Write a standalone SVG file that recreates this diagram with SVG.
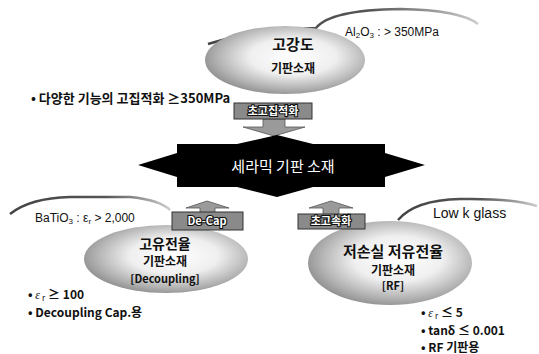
<svg xmlns="http://www.w3.org/2000/svg" width="539" height="354" viewBox="0 0 539 354">
<style>
.k{font-family:"Noto Sans CJK KR","Liberation Sans",sans-serif;font-weight:bold;fill:#111}
.r{font-family:"Liberation Sans","Noto Sans CJK KR",sans-serif;fill:#111}
.bx{fill:#8a8a8a;stroke:#333;stroke-width:1}
.bt{font-family:"Noto Sans CJK KR","Liberation Sans",sans-serif;font-weight:bold;font-size:11px;fill:#fff;stroke:#111;stroke-width:2.2;paint-order:stroke;text-anchor:middle}
.ar{fill:#9a9a9a;stroke:#555;stroke-width:0.8}
.cl{fill:none;stroke-width:2.5}
</style>
<defs>
<radialGradient id="g1" cx="0.55" cy="0.45" r="0.6">
<stop offset="0" stop-color="#fff"/><stop offset="0.45" stop-color="#efefef"/><stop offset="0.8" stop-color="#b0b0b0"/><stop offset="1" stop-color="#888"/>
</radialGradient>
<linearGradient id="s1" x1="0" x2="1" y1="0" y2="0">
<stop offset="0" stop-color="#444"/><stop offset="0.6" stop-color="#555"/><stop offset="1" stop-color="#ccc"/>
</linearGradient>
</defs>
<g id="callout-top">
<path class="cl" stroke="url(#s1)" d="M208,44 Q260,28 316,28 Q330,10 400,9 Q460,10 478,24"/>
<text class="r" x="345" y="36" font-size="12">Al<tspan font-size="8" dy="2">2</tspan><tspan dy="-2">O</tspan><tspan font-size="8" dy="2">3</tspan><tspan dy="-2"> :  &gt; 350MPa</tspan></text>
</g>
<g id="node-top">
<ellipse cx="285" cy="60" rx="80" ry="34" fill="url(#g1)"/>
<text class="k" x="293" y="50" font-size="15" text-anchor="middle">고강도</text>
<text class="k" x="293" y="73" font-size="12" text-anchor="middle">기판소재</text>
</g>
<text class="k" x="31" y="103" font-size="13">• 다양한 기능의 고집적화 ≥350MPa</text>
<g id="callout-left">
<path class="cl" stroke="url(#s1)" d="M10,214 Q30,198 70,197 L130,197 Q160,200 170,210"/>
<text class="r" x="35" y="222" font-size="12">BaTiO<tspan font-size="8" dy="2">3</tspan><tspan dy="-2"> : ε</tspan><tspan font-size="8" dy="2">r</tspan><tspan dy="-2"> &gt; 2,000</tspan></text>
</g>
<g id="node-left">
<ellipse cx="166" cy="259" rx="82" ry="34" fill="url(#g1)"/>
<text class="k" x="165" y="249" font-size="14" text-anchor="middle">고유전율</text>
<text class="k" x="165" y="266" font-size="12" text-anchor="middle">기판소재</text>
<text class="k" x="165" y="283" font-size="11" text-anchor="middle">[Decoupling]</text>
</g>
<g id="callout-right">
<path class="cl" stroke="url(#s1)" d="M398,220 Q415,200 460,199 Q510,198 537,206"/>
<text class="r" x="433" y="218" font-size="14">Low k glass</text>
</g>
<g id="node-right">
<ellipse cx="390" cy="263" rx="82" ry="42" fill="url(#g1)"/>
<text class="k" x="393" y="257" font-size="15" text-anchor="middle">저손실 저유전율</text>
<text class="k" x="393" y="275" font-size="12" text-anchor="middle">기판소재</text>
<text class="k" x="393" y="290" font-size="11" text-anchor="middle">[RF]</text>
</g>
<g id="connectors">
<path class="ar" d="M263,119 H285 V127 H305 L274,136 L243,127 H263 Z"/>
<rect class="bx" x="234" y="103" width="78" height="16"/>
<text class="bt" x="273" y="115">초고집적화</text>
<path class="ar" d="M200,213 V208 H186 L207,201 L229,208 H215 V213 Z"/>
<rect class="bx" x="172" y="212" width="71" height="18"/>
<text class="bt" x="207" y="225" font-size="12">De-Cap</text>
<path class="ar" d="M323,215 V208 H309 L331,201 L353,208 H339 V215 Z"/>
<rect class="bx" x="298" y="214" width="67" height="15"/>
<text class="bt" x="331" y="225">초고속화</text>
</g>
<g id="node-center">
<path d="M138,165 L177,153 V144 H237 L277,135 L313,144 H385 V153 L425,165 L385,177 V187 H313 L277,197 L237,187 H177 V177 Z" fill="#000"/>
<text x="283" y="172" font-family="Noto Sans CJK KR,Liberation Sans,sans-serif" font-size="15" fill="#fff" text-anchor="middle">세라믹 기판 소재</text>
</g>
<text class="k" x="28" y="299" font-size="12">• <tspan font-family="Liberation Serif,serif" font-style="italic" font-weight="normal">ε</tspan><tspan font-size="8" dx="2" dy="2" font-weight="normal">r</tspan><tspan dx="3" dy="-2">≥ 100</tspan></text>
<text class="k" x="28" y="317" font-size="12">• Decoupling Cap.용</text>
<text class="k" x="421" y="317" font-size="12">• <tspan font-family="Liberation Serif,serif" font-style="italic" font-weight="normal">ε</tspan><tspan font-size="8" dx="2" dy="2" font-weight="normal">r</tspan><tspan dx="3" dy="-2">≤ 5</tspan></text>
<text class="k" x="421" y="335" font-size="12">• tanδ ≤ 0.001</text>
<text class="k" x="421" y="352" font-size="12">• RF 기판용</text>
</svg>
